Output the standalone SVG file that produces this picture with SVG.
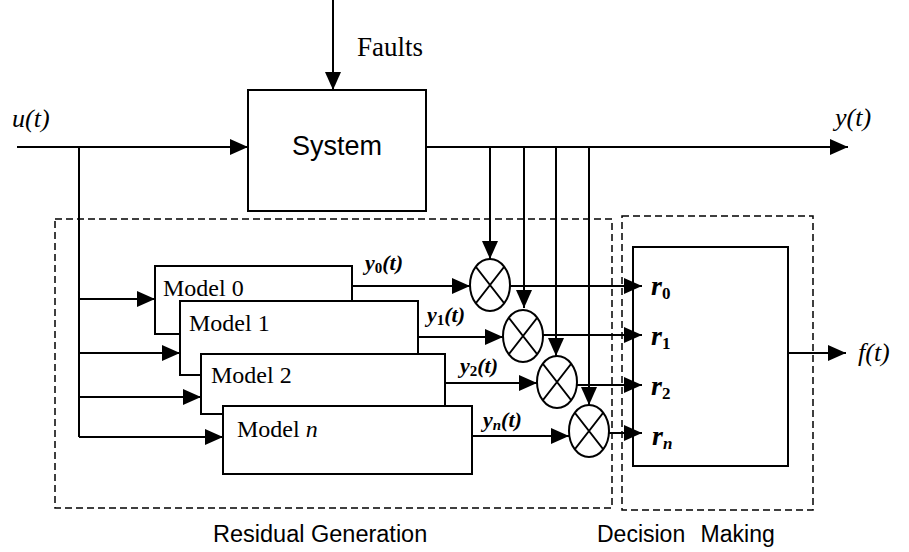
<svg xmlns="http://www.w3.org/2000/svg" width="909" height="552" viewBox="0 0 909 552">
  <defs>
    <marker id="arrow" markerUnits="userSpaceOnUse" markerWidth="18" markerHeight="16" refX="18" refY="8" orient="auto">
      <path d="M0,0 L18,8 L0,16 z" fill="#000"/>
    </marker>
    <style>
      .line { stroke: #000; stroke-width: 2; fill: none; }
      .arr { marker-end: url(#arrow); }
      .box { stroke: #000; stroke-width: 2; fill: #fff; }
      .dash { stroke: #000; stroke-width: 1.5; fill: none; stroke-dasharray: 7 4; }
      .serif { font-family: "Liberation Serif", "Times New Roman", serif; fill: #000; }
      .sans { font-family: "Liberation Sans", Arial, sans-serif; fill: #000; }
      .sig { font-family: "Liberation Serif", "Times New Roman", serif; font-style: italic; font-size: 26px; fill: #000; }
      .lbl { font-family: "Liberation Serif", "Times New Roman", serif; font-style: italic; font-weight: bold; font-size: 22px; fill: #000; }
      .res { font-family: "Liberation Serif", "Times New Roman", serif; font-style: italic; font-weight: bold; font-size: 28px; fill: #000; }
      .sub { font-size: 15px; }
      .rsub { font-size: 17px; }
      .model { font-family: "Liberation Serif", "Times New Roman", serif; font-size: 24px; fill: #000; }
      .mult { stroke: #000; stroke-width: 2; fill: #fff; }
    </style>
  </defs>

  <!-- block boundaries -->
  <g id="residual-generation">
    <rect class="dash" x="55" y="219" width="557" height="289"/>
    <text class="sans" x="213" y="542" font-size="23.5">Residual Generation</text>
  </g>
  <g id="decision-making">
    <rect class="dash" x="622" y="216" width="191" height="294"/>
    <text class="sans" x="597" y="542" font-size="23" word-spacing="9">Decision Making</text>
  </g>

  <!-- connectors -->
  <g id="connectors">
    <!-- faults into the system -->
    <line class="line arr" x1="333" y1="0" x2="333" y2="90"/>
    <!-- input u(t) -->
    <line class="line arr" x1="17" y1="147" x2="248" y2="147"/>
    <polyline class="line" points="79,147 79,437"/>
    <line class="line arr" x1="79" y1="299" x2="155" y2="299"/>
    <line class="line arr" x1="79" y1="353" x2="180" y2="353"/>
    <line class="line arr" x1="79" y1="397" x2="201" y2="397"/>
    <line class="line arr" x1="79" y1="437" x2="223" y2="437"/>
    <!-- system output y(t) -->
    <line class="line arr" x1="426" y1="147" x2="848" y2="147"/>
    <line class="line arr" x1="490" y1="147" x2="490" y2="259"/>
    <line class="line arr" x1="524" y1="147" x2="524" y2="308"/>
    <line class="line arr" x1="556" y1="147" x2="556" y2="356"/>
    <line class="line arr" x1="589" y1="147" x2="589" y2="405"/>
    <!-- model outputs -->
    <line class="line arr" x1="352" y1="286" x2="470" y2="286"/>
    <line class="line arr" x1="418" y1="337" x2="503" y2="337"/>
    <line class="line arr" x1="445" y1="383" x2="537" y2="383"/>
    <line class="line arr" x1="472" y1="436" x2="569" y2="436"/>
    <!-- residuals -->
    <line class="line arr" x1="510" y1="286" x2="642" y2="286"/>
    <line class="line arr" x1="543" y1="335" x2="642" y2="335"/>
    <line class="line arr" x1="576" y1="385" x2="642" y2="385"/>
    <line class="line arr" x1="609" y1="433" x2="642" y2="433"/>
    <!-- fault decision f(t) -->
    <line class="line arr" x1="789" y1="353" x2="846" y2="353"/>
  </g>

  <!-- system -->
  <g id="system">
    <rect class="box" x="248" y="90" width="178" height="121"/>
    <text class="sans" x="337" y="155" font-size="27" text-anchor="middle">System</text>
  </g>
  <g id="faults-label">
    <text class="serif" x="357" y="56" font-size="27">Faults</text>
  </g>
  <g id="signal-labels">
    <text class="sig" x="12" y="127">u(t)</text>
    <text class="sig" x="835" y="126">y(t)</text>
    <text class="sig" x="858" y="361">f(t)</text>
  </g>

  <!-- models -->
  <g id="model-0">
    <rect class="box" x="155" y="266" width="197" height="68"/>
    <text class="model" x="163" y="296">Model 0</text>
  </g>
  <g id="model-1">
    <rect class="box" x="180" y="301" width="238" height="74"/>
    <text class="model" x="189" y="331">Model 1</text>
  </g>
  <g id="model-2">
    <rect class="box" x="201" y="354" width="244" height="60"/>
    <text class="model" x="211" y="383">Model 2</text>
  </g>
  <g id="model-n">
    <rect class="box" x="223" y="406" width="249" height="68"/>
    <text class="model" x="237" y="437">Model <tspan font-style="italic">n</tspan></text>
  </g>

  <!-- model output labels -->
  <g id="output-labels">
    <text class="lbl" x="365" y="270">y<tspan class="sub" dy="3" font-style="normal">0</tspan><tspan dy="-3">(t)</tspan></text>
    <text class="lbl" x="427" y="322">y<tspan class="sub" dy="3" font-style="normal">1</tspan><tspan dy="-3">(t)</tspan></text>
    <text class="lbl" x="460" y="373">y<tspan class="sub" dy="3" font-style="normal">2</tspan><tspan dy="-3">(t)</tspan></text>
    <text class="lbl" x="483" y="427">y<tspan class="sub" dy="3">n</tspan><tspan dy="-3">(t)</tspan></text>
  </g>

  <!-- comparators -->
  <g id="comparator-0">
    <ellipse class="mult" cx="490" cy="285" rx="20" ry="26"/>
    <path class="line" d="M476,267 L504,303 M504,267 L476,303"/>
  </g>
  <g id="comparator-1">
    <ellipse class="mult" cx="523" cy="336" rx="20" ry="26"/>
    <path class="line" d="M509,318 L537,354 M537,318 L509,354"/>
  </g>
  <g id="comparator-2">
    <ellipse class="mult" cx="557" cy="382" rx="20" ry="26"/>
    <path class="line" d="M543,364 L571,400 M571,364 L543,400"/>
  </g>
  <g id="comparator-n">
    <ellipse class="mult" cx="589" cy="431" rx="20" ry="26"/>
    <path class="line" d="M575,413 L603,449 M603,413 L575,449"/>
  </g>

  <!-- decision block -->
  <g id="decision">
    <polyline class="line" points="633,300 633,247 788,247 788,466 633,466 633,300"/>
    <text class="res" x="651" y="295">r<tspan class="rsub" dy="4" font-style="normal">0</tspan></text>
    <text class="res" x="651" y="345">r<tspan class="rsub" dy="4" font-style="normal">1</tspan></text>
    <text class="res" x="651" y="395">r<tspan class="rsub" dy="4" font-style="normal">2</tspan></text>
    <text class="res" x="652" y="445">r<tspan class="rsub" dy="4">n</tspan></text>
  </g>
</svg>
